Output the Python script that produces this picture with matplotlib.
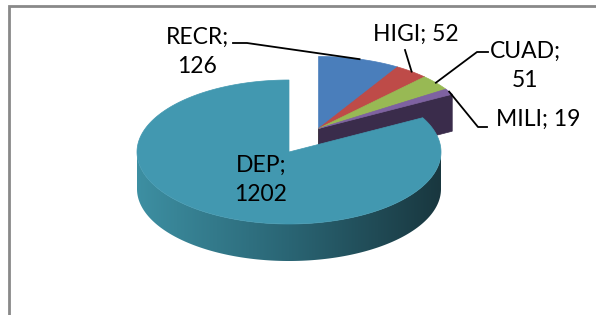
import numpy as np
import matplotlib.pyplot as plt
from matplotlib.patches import Polygon
from matplotlib.colors import LinearSegmentedColormap

# data, in the order the pie is drawn (clockwise from 12 o'clock)
categories = ['RECR', 'HIGI', 'CUAD', 'MILI', 'DEP']
values = [126, 52, 51, 19, 1202]
explode = [0.38, 0.38, 0.38, 0.38, 0.0]

top_colors = ['#4a7ebb', '#be4b48', '#98b954', '#7e62a1', '#4298b0']
side_colors = ['#36608e', '#8c3734', '#728a3f', '#3a2c4b', '#2c6a7a']

# label boxes (centre in pixels) and leader elbows
label_pos = [(197, 52), (416, 34), (525, 66), (538, 119), (261, 180)]
label_text = ['RECR;\n126', 'HIGI; 52', 'CUAD;\n51', 'MILI; 19', 'DEP;\n1202']
leaders = [[(233, 43), (247, 43)], [(405, 50)], [(488, 52), (477, 52)],
           [(487, 127), (478, 127)], None]

# projected pie geometry (pixels)
cx, cy = 289, 152
a, b = 152, 72
depth = 37

wall_cmap = LinearSegmentedColormap.from_list('wall', ['#3d8fa2', '#2a6574', '#19373f'])


def pt(t, dx=0.0, dy=0.0, dz=0.0):
    r = np.radians(t)
    return cx + dx + a * np.sin(r), cy + dy - b * np.cos(r) + dz


fig = plt.figure(figsize=(5.96, 3.15), dpi=100)
ax = fig.add_axes([0, 0, 1, 1])
ax.set_xlim(0, 596)
ax.set_ylim(315, 0)
ax.axis('off')

# chart frame (only top and left edges fall inside the picture)
ax.plot([9, 9, 600], [320, 6, 6], color='#898989', lw=2, solid_joinstyle='miter')

total = float(sum(values))
starts = np.concatenate([[0], np.cumsum(values)[:-1]]) / total * 360
ends = np.cumsum(values) / total * 360

# exploded group moves along the bisector of the exploded slices
grp = [i for i, e in enumerate(explode) if e > 0]
gmid = np.radians((starts[grp[0]] + ends[grp[-1]]) / 2)

offsets = []
for e in explode:
    offsets.append((e * a * np.sin(gmid), -e * b * np.cos(gmid)))

for i in range(len(values)):
    t0, t1 = starts[i], ends[i]
    dx, dy = offsets[i]
    apex = (cx + dx, cy + dy)

    # radial cut faces
    if np.sin(np.radians(t1)) > 0.01:
        p = pt(t1, dx, dy)
        q = pt(t1, dx, dy, depth)
        ax.add_patch(Polygon([apex, p, q, (apex[0], apex[1] + depth)],
                             closed=True, fc=side_colors[i], ec=side_colors[i], lw=0.5))
    if np.sin(np.radians(t0)) < -0.01:
        p = pt(t0, dx, dy)
        q = pt(t0, dx, dy, depth)
        ax.add_patch(Polygon([apex, p, q, (apex[0], apex[1] + depth)],
                             closed=True, fc=side_colors[i], ec=side_colors[i], lw=0.5))

    # outer wall on the front half, shaded left to right
    lo, hi = max(t0, 90), min(t1, 270)
    if hi > lo:
        ts = np.linspace(lo, hi, 300)
        ux, uy = pt(ts, dx, dy)
        wall = list(zip(ux, uy)) + list(zip(ux[::-1], uy[::-1] + depth))
        patch = Polygon(wall, closed=True, fc='none', ec='none')
        ax.add_patch(patch)
        grad = np.linspace(0, 1, 256).reshape(1, -1)
        im = ax.imshow(grad, cmap=wall_cmap, aspect='auto', interpolation='bilinear',
                       extent=(cx + dx - a, cx + dx + a, 315, 0))
        im.set_clip_path(patch)

    # top face
    ts = np.linspace(t0, t1, max(int((t1 - t0) * 2), 4))
    xs, ys = pt(ts, dx, dy)
    ax.add_patch(Polygon([apex] + list(zip(xs, ys)), closed=True,
                         fc=top_colors[i], ec=top_colors[i], lw=0.5, zorder=2))

ax.set_xlim(0, 596)
ax.set_ylim(315, 0)

# labels and leader lines
for i in range(len(values)):
    ax.text(label_pos[i][0], label_pos[i][1], label_text[i], ha='center', va='center',
            multialignment='center', fontsize=16.5, family='Lato', linespacing=1.5,
            color='black', zorder=5)
    if leaders[i] is not None:
        mid = (starts[i] + ends[i]) / 2
        tip = pt(mid, *offsets[i])
        xs = [p[0] for p in leaders[i]] + [tip[0]]
        ys = [p[1] for p in leaders[i]] + [tip[1]]
        ax.plot(xs, ys, color='black', lw=1.3, zorder=4)

fig.savefig('out.png', dpi=100)
